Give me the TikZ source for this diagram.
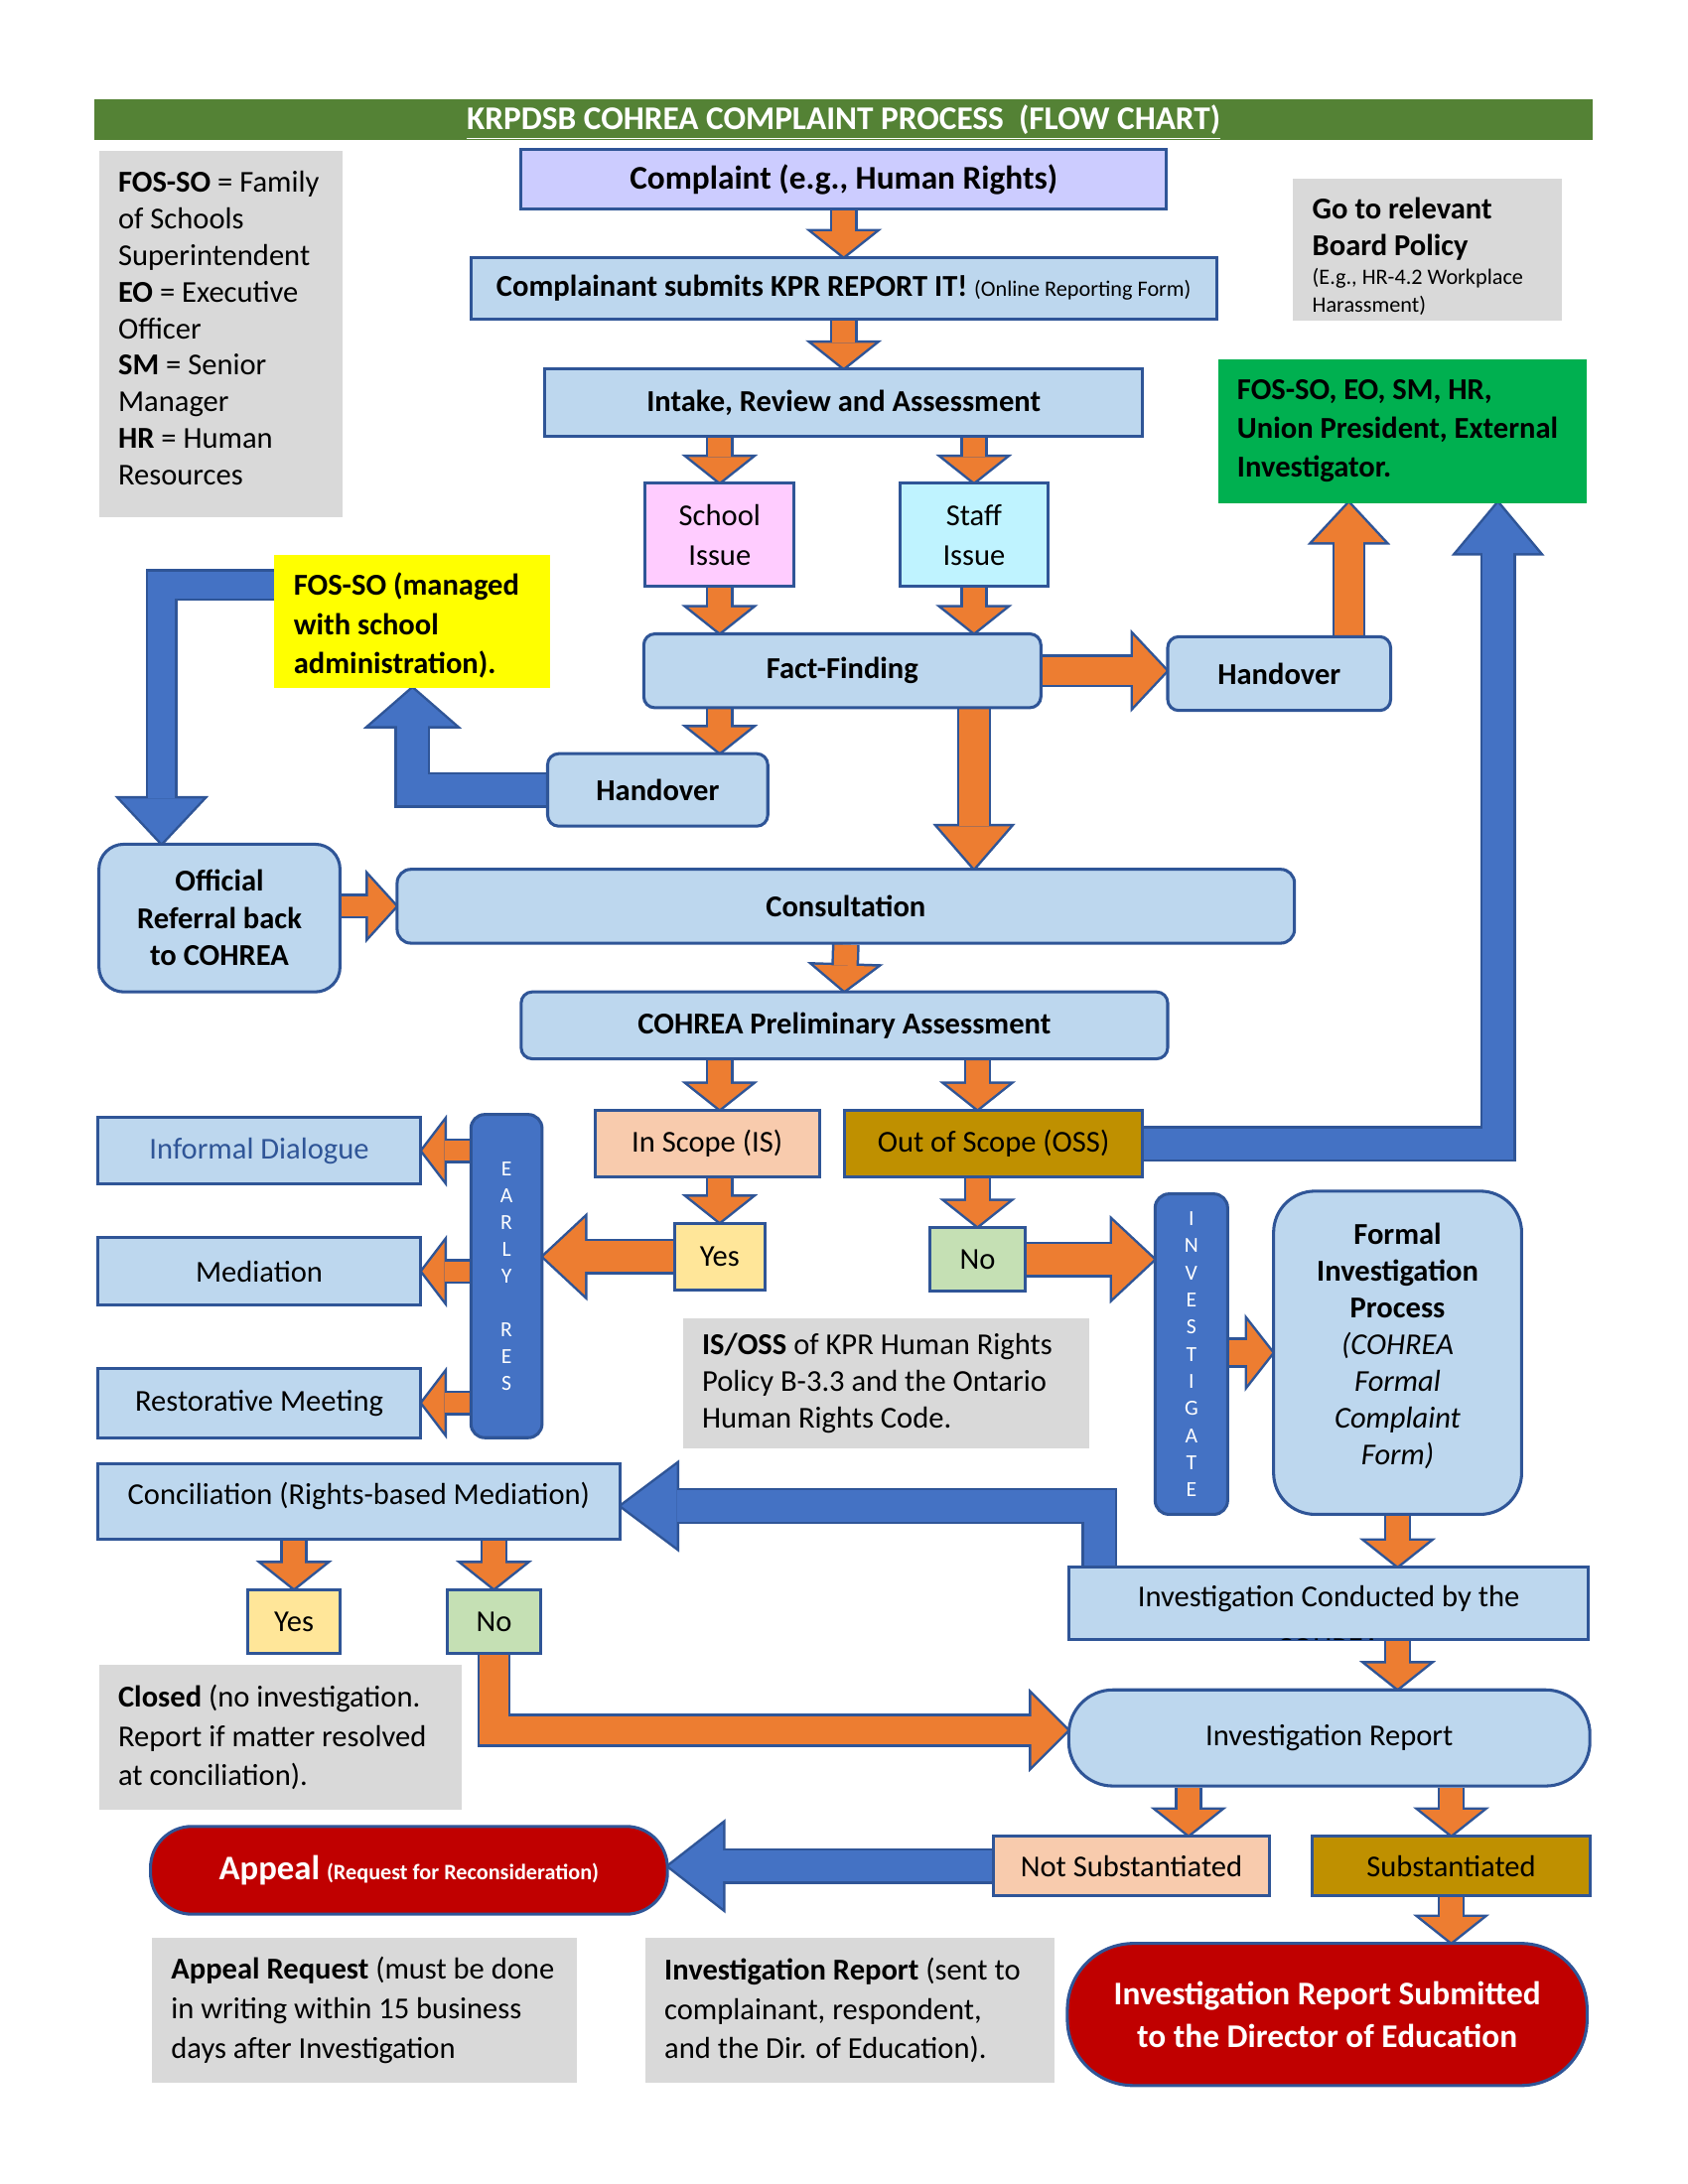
\documentclass[tikz,border=0pt]{standalone}
\usepackage{fontspec}
\setmainfont{Carlito}
\usetikzlibrary{calc}
\pgfdeclarelayer{bg}
\pgfsetlayers{bg,main}
\definecolor{hdr}{HTML}{548235}
\definecolor{lb}{HTML}{BDD7EE}
\definecolor{bd}{HTML}{2F5597}
\definecolor{bl}{HTML}{4472C4}
\definecolor{orr}{HTML}{ED7D31}
\definecolor{lav}{HTML}{CCCCFF}
\definecolor{pinkx}{HTML}{FFCCFF}
\definecolor{cyanx}{HTML}{BFF3FF}
\definecolor{grn}{HTML}{00B050}
\definecolor{yel}{HTML}{FFFF00}
\definecolor{gr}{HTML}{D9D9D9}
\definecolor{peach}{HTML}{F8CBAD}
\definecolor{gold}{HTML}{BF9000}
\definecolor{lyel}{HTML}{FFE699}
\definecolor{lgrn}{HTML}{C5E0B4}
\definecolor{redx}{HTML}{C00000}
\tikzset{
  box/.style={draw=bd, line width=1.1pt, fill=lb, align=center, inner sep=0pt,
    font=\fontsize{11}{13.3}\selectfont},
  plain/.style={fill=gr, draw=none, inner sep=0pt},
  txt/.style={anchor=west, align=left, inner sep=0pt, font=\fontsize{11}{14.3}\selectfont},
  vbar/.style={box, fill=bl, rounded corners=5pt, text=white,
    font=\fontsize{7.8}{9.7}\selectfont},
}
\newcommand\bx[7]{\node[#6, minimum width={(#4-#2)*0.5052pt}, minimum height={(#5-#3)*0.5052pt}] (#1) at ({(#2+#4)/2},{(#3+#5)/2}) {#7};}
% block arrow: #1 fill, #2 shaft width, #3 half head width, #4 head length, #5 shaft path, #6 last shaft point, #7 tip
\newcommand\barrow[7]{%
  \begin{pgfonlayer}{bg}
  \coordinate (hb) at ($#7!#4!#6$);
  \coordinate (hl) at ($(hb)!#3!90:#7$);
  \coordinate (hr) at ($(hb)!#3!-90:#7$);
  \draw[bd, line width=#2, line join=miter] #5 -- (hb);
  \draw[bd, line width=1.8pt, line join=miter] (hl) -- #7 -- (hr) -- cycle;
  \draw[#1, line width=#2-1.8pt, line join=miter] #5 -- (hb);
  \fill[#1] (hl) -- #7 -- (hr) -- cycle;
  \end{pgfonlayer}}
\begin{document}
\begin{tikzpicture}[x=0.5052pt, y=-0.5052pt]
\useasboundingbox (0,0) rectangle (1211.4,1567.7);

% title
\bx{title}{68}{72}{1143}{100}{fill=hdr, inner sep=0pt, text=white, text height=11pt, font=\fontsize{12}{14}\selectfont\bfseries}{\underline{KRPDSB COHREA COMPLAINT PROCESS\ \ (FLOW CHART)}}

% legend
\bx{legend}{71}{108}{246}{371}{plain}{}
\node[txt, font=\fontsize{11}{13.3}\selectfont] (legendt) at ([xshift=7pt,yshift=2pt]legend.west) {\textbf{FOS-SO} = Family\\of Schools\\Superintendent\\\textbf{EO} = Executive\\Officer\\\textbf{SM} = Senior\\Manager\\\textbf{HR} = Human\\Resources};

% top chain
\bx{complaint}{374}{107}{837}{150}{box, fill=lav, text height=9.5pt, text depth=2pt, font=\fontsize{12}{14}\selectfont\bfseries}{Complaint (e.g., Human Rights)}
\bx{submit}{338}{185}{873}{229}{box}{\textbf{Complainant submits KPR REPORT IT!} {\fontsize{8}{9}\selectfont (Online Reporting Form)}}
\bx{intake}{391}{265}{820}{313}{box, font=\fontsize{11}{13.3}\selectfont\bfseries}{Intake, Review and Assessment}
\bx{school}{463}{347}{570}{421}{box, fill=pinkx, font=\fontsize{11}{14.5}\selectfont}{School\\Issue}
\bx{staff}{646}{347}{752}{421}{box, fill=cyanx, font=\fontsize{11}{14.5}\selectfont}{Staff\\Issue}
\bx{ff}{462}{455}{747}{508}{box, rounded corners=4pt, font=\fontsize{11}{13.3}\selectfont\bfseries}{Fact-Finding}
\bx{hoR}{838}{457}{998}{510}{box, rounded corners=4pt, font=\fontsize{11}{13.3}\selectfont\bfseries}{Handover}
\bx{green}{874}{258}{1139}{361}{fill=grn, draw=none, inner sep=0pt}{}
\node[txt, font=\fontsize{11}{14}\selectfont\bfseries] (greent) at ([xshift=7pt]green.west) {FOS-SO, EO, SM, HR,\\Union President, External\\Investigator.};
\bx{goto}{928}{128}{1121}{230}{plain}{}
\node[txt, font=\fontsize{11}{13.5}\selectfont] (gotot) at ([xshift=7pt,yshift=-2.5pt]goto.west) {\textbf{Go to relevant}\\\textbf{Board Policy}\\[-3pt]{\fontsize{8}{9.5}\selectfont (E.g., HR-4.2 Workplace}\\[-3.5pt]{\fontsize{8}{9.5}\selectfont Harassment)}};
\bx{hoL}{393}{541}{551}{593}{box, rounded corners=4pt, font=\fontsize{11}{13.3}\selectfont\bfseries}{Handover}
\bx{yellow}{197}{398}{395}{494}{fill=yel, draw=none, inner sep=0pt}{}
\node[txt, font=\fontsize{11}{14.3}\selectfont\bfseries] (yellowt) at ([xshift=7pt,yshift=-1.5pt]yellow.west) {FOS-SO (managed\\with school\\administration).};
\bx{official}{71}{606}{244}{712}{box, rounded corners=9pt, font=\fontsize{11}{13.5}\selectfont\bfseries}{Official\\Referral back\\to COHREA}
\bx{consult}{285}{624}{929}{677}{box, rounded corners=5pt, font=\fontsize{11}{13.3}\selectfont\bfseries}{Consultation}
\bx{prelim}{374}{712}{838}{760}{box, rounded corners=4pt, font=\fontsize{11}{13.3}\selectfont\bfseries}{COHREA Preliminary Assessment}
\bx{is}{427}{797}{588}{845}{box, fill=peach}{In Scope (IS)}
\bx{oss}{606}{797}{820}{845}{box, fill=gold}{Out of Scope (OSS)}
\bx{yes1}{484}{878}{549}{926}{box, fill=lyel}{Yes}
\bx{no1}{667}{881}{736}{927}{box, fill=lgrn}{No}
\bx{early}{338}{800}{389}{1032}{vbar}{E\\A\\R\\L\\Y\\~\\R\\E\\S}
\bx{informal}{70}{802}{302}{850}{box, text=bd}{Informal Dialogue}
\bx{mediation}{70}{888}{302}{937}{box}{Mediation}
\bx{restor}{70}{982}{302}{1032}{box}{Restorative Meeting}
\bx{inv}{829}{857}{881}{1087}{vbar, font=\fontsize{7.8}{9.84}\selectfont}{I\\N\\V\\E\\S\\T\\I\\G\\A\\T\\E}
\bx{formal}{914}{855}{1092}{1087}{box, rounded corners=15pt}{}
\node[align=center, inner sep=0pt, font=\fontsize{11}{13.3}\selectfont] (formalt) at ([yshift=2.5pt]formal.center) {\textbf{Formal}\\\textbf{Investigation}\\\textbf{Process}\\\textit{(COHREA}\\\textit{Formal}\\\textit{Complaint}\\\textit{Form)}};
\bx{isoss}{490}{946}{782}{1040}{plain}{}
\node[txt, font=\fontsize{11}{13.3}\selectfont] (isosst) at ([xshift=7pt]isoss.west) {\textbf{IS/OSS} of KPR Human Rights\\Policy B-3.3 and the Ontario\\Human Rights Code.};
\bx{concil}{70}{1051}{445}{1105}{box, text height=8pt, text depth=6.4pt}{Conciliation (Rights-based Mediation)}
\bx{icb}{767}{1125}{1140}{1177}{box, text height=8pt, text depth=5.5pt}{Investigation Conducted by the}
\begin{scope}
  \clip ([yshift=-1pt]icb.north west) rectangle ([yshift=0.6pt]icb.south east);
  \node[inner sep=0pt, font=\fontsize{11}{13.3}\selectfont] (icbt) at ($(icb.south)+(0,5.5)$) {COHREA};
\end{scope}
\bx{ir}{767}{1213}{1141}{1282}{box, rounded corners=16pt}{Investigation Report}
\bx{yes2}{178}{1141}{244}{1187}{box, fill=lyel}{Yes}
\bx{no2}{321}{1141}{388}{1187}{box, fill=lgrn}{No}
\bx{closed}{71}{1195}{331}{1299}{plain}{}
\node[txt] (closedt) at ([xshift=7pt]closed.west) {\textbf{Closed} (no investigation.\\Report if matter resolved\\at conciliation).};
\bx{notsub}{713}{1318}{911}{1361}{box, fill=peach}{Not Substantiated}
\bx{sub}{942}{1318}{1141}{1361}{box, fill=gold}{Substantiated}
\bx{appeal}{108}{1311}{479}{1374}{box, fill=redx, rounded corners=15pt, text=white}{{\fontsize{12.5}{14}\selectfont\bfseries Appeal} {\fontsize{8}{9}\selectfont\bfseries (Request for Reconsideration)}}
\bx{irs}{766}{1395}{1139}{1497}{box, fill=redx, rounded corners=24pt, text=white, font=\fontsize{12}{15.5}\selectfont\bfseries}{Investigation Report Submitted\\to the Director of Education}
\bx{appreq}{109}{1391}{414}{1495}{plain}{}
\node[txt] (appreqt) at ([xshift=7pt]appreq.west) {\textbf{Appeal Request} (must be done\\in writing within 15 business\\days after Investigation};
\bx{irgray}{463}{1391}{757}{1495}{plain}{}
\node[txt] (irgrayt) at ([xshift=7pt]irgray.west) {\textbf{Investigation Report} (sent to\\complainant, respondent,\\and the Dir. of Education).};

% bend points
\coordinate (k1) at (1075,821);
\coordinate (k2) at (296,567);
\coordinate (k3) at (116,420);
\coordinate (k4) at (789,1081);
\coordinate (k5) at (968,480);
\coordinate (k6) at (354.5,1242);
\coordinate (k7) at (853,1300);

% orange arrows
\barrow{orr}{10pt}{11.3pt}{9pt}{(complaint.south)}{(complaint.south)}{(submit.north)}
\barrow{orr}{10pt}{11.3pt}{9pt}{(submit.south)}{(submit.south)}{(intake.north)}
\barrow{orr}{10pt}{11.3pt}{9pt}{(school.north |- intake.south)}{(school.north |- intake.south)}{(school.north)}
\barrow{orr}{10pt}{11.3pt}{9pt}{(staff.north |- intake.south)}{(staff.north |- intake.south)}{(staff.north)}
\barrow{orr}{10pt}{11.3pt}{9pt}{(school.south)}{(school.south)}{(school.south |- ff.north)}
\barrow{orr}{10pt}{11.3pt}{9pt}{(staff.south)}{(staff.south)}{(staff.south |- ff.north)}
\barrow{orr}{12pt}{12.8pt}{12pt}{(ff.east)}{(ff.east)}{(hoR.west |- ff.east)}
\barrow{orr}{12pt}{13pt}{14pt}{(k5 |- hoR.north)}{(k5 |- hoR.north)}{(k5 |- green.south)}
\barrow{orr}{10pt}{11.3pt}{9pt}{(school.south |- ff.south)}{(school.south |- ff.south)}{(school.south |- hoL.north)}
\barrow{orr}{12.5pt}{13pt}{15pt}{(staff.south |- ff.south)}{(staff.south |- ff.south)}{(staff.south |- consult.north)}
\barrow{orr}{9pt}{11pt}{10pt}{(official.east |- consult.west)}{(official.east |- consult.west)}{(consult.west)}
\barrow{orr}{10pt}{11.3pt}{9pt}{(consult.south)}{(consult.south)}{(prelim.north)}
\barrow{orr}{10pt}{11.3pt}{9pt}{(yes1.north |- prelim.south)}{(yes1.north |- prelim.south)}{(yes1.north |- is.north)}
\barrow{orr}{10pt}{11.3pt}{9pt}{(no1.north |- prelim.south)}{(no1.north |- prelim.south)}{(no1.north |- oss.north)}
\barrow{orr}{10pt}{11.3pt}{9pt}{(yes1.north |- is.south)}{(yes1.north |- is.south)}{(yes1.north)}
\barrow{orr}{10pt}{11.3pt}{9pt}{(no1.north |- oss.south)}{(no1.north |- oss.south)}{(no1.north)}
\barrow{orr}{13pt}{14pt}{15pt}{(yes1.west)}{(yes1.west)}{(early.east |- yes1.west)}
\barrow{orr}{13pt}{14pt}{15pt}{(no1.east)}{(no1.east)}{(inv.west |- no1.east)}
\barrow{orr}{9pt}{10.5pt}{8pt}{(early.west |- informal.east)}{(early.west |- informal.east)}{(informal.east)}
\barrow{orr}{9pt}{10.5pt}{8pt}{(early.west |- mediation.east)}{(early.west |- mediation.east)}{(mediation.east)}
\barrow{orr}{9pt}{10.5pt}{8pt}{(early.west |- restor.east)}{(early.west |- restor.east)}{(restor.east)}
\barrow{orr}{11pt}{11.5pt}{9pt}{(inv.east |- formal.west)}{(inv.east |- formal.west)}{(formal.west)}
\barrow{orr}{10pt}{11.3pt}{9pt}{(formal.south)}{(formal.south)}{(formal.south |- icb.north)}
\barrow{orr}{10pt}{11.3pt}{9pt}{(formal.south |- icb.south)}{(formal.south |- icb.south)}{(formal.south |- ir.north)}
\barrow{orr}{10pt}{11.3pt}{9pt}{(yes2.north |- concil.south)}{(yes2.north |- concil.south)}{(yes2.north)}
\barrow{orr}{10pt}{11.3pt}{9pt}{(no2.north |- concil.south)}{(no2.north |- concil.south)}{(no2.north)}
\barrow{orr}{12pt}{13pt}{13pt}{(no2.south) -- (k6)}{(k6)}{(ir.west |- k6)}
\barrow{orr}{10pt}{11.3pt}{9pt}{(k7 |- ir.south)}{(k7 |- ir.south)}{(k7 |- notsub.north)}
\barrow{orr}{10pt}{11.3pt}{9pt}{(sub.north |- ir.south)}{(sub.north |- ir.south)}{(sub.north)}
\barrow{orr}{10pt}{11.3pt}{9pt}{(sub.south)}{(sub.south)}{(sub.south |- irs.north)}

% blue arrows
\barrow{bl}{13pt}{15pt}{18pt}{(oss.east) -- (k1)}{(k1)}{(k1 |- green.south)}
\barrow{bl}{13pt}{15.5pt}{13.5pt}{(hoL.west) -- (k2)}{(k2)}{(k2 |- yellow.south)}
\barrow{bl}{11.5pt}{15pt}{16pt}{(k3 -| yellow.west) -- (k3)}{(k3)}{(k3 |- official.north)}
\barrow{bl}{13pt}{15pt}{20pt}{(k4 |- icb.north) -- (k4)}{(k4)}{(concil.east |- k4)}
\barrow{bl}{13pt}{15.3pt}{19.6pt}{(notsub.west)}{(notsub.west)}{(appeal.east |- notsub.west)}
\end{tikzpicture}
\end{document}
